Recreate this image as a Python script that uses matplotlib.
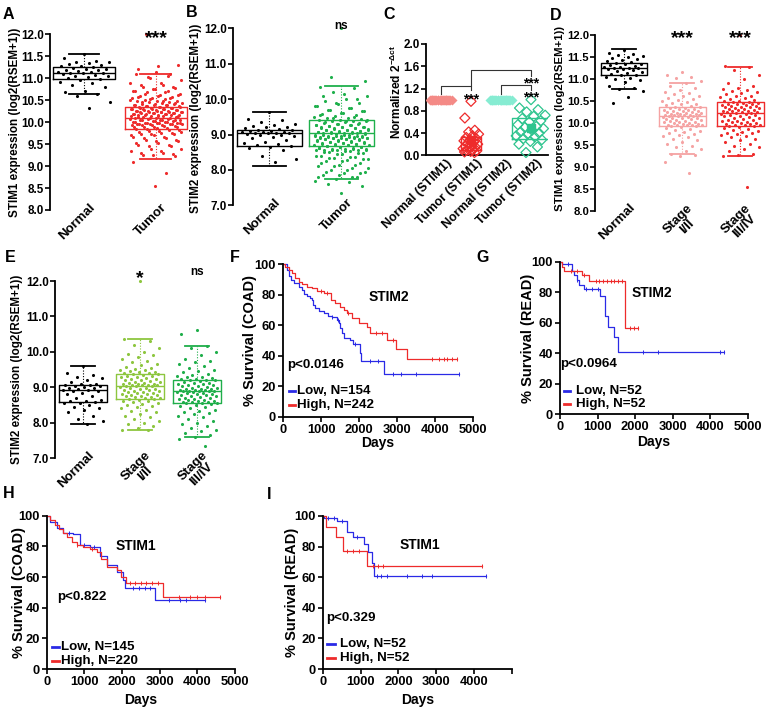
import numpy as np
import matplotlib
matplotlib.use('Agg')
import matplotlib.pyplot as plt
from matplotlib.transforms import ScaledTranslation, blended_transform_factory

plt.rcParams['font.family'] = ['Liberation Sans', 'DejaVu Sans']
plt.rcParams['font.weight'] = 'bold'
plt.rcParams['axes.labelweight'] = 'bold'
plt.rcParams['mathtext.fontset'] = 'custom'
plt.rcParams['mathtext.rm'] = 'Liberation Sans:bold'
plt.rcParams['mathtext.bf'] = 'Liberation Sans:bold'

# ---------------- DATA ----------------
# STIM1 expression (panels A, D)
stim1_normal_A = [11.55, 11.45, 11.4, 11.38, 11.37, 11.35, 11.33, 11.3, 11.28, 11.27, 11.25, 11.24, 11.22,
                  11.2, 11.19, 11.18, 11.17, 11.15, 11.14, 11.13, 11.12, 11.11, 11.1, 11.08, 11.06, 11.05,
                  11.03, 11.0, 10.98, 10.95, 10.92, 10.88, 10.85, 10.8, 10.72, 10.68, 10.65, 10.6, 10.46, 10.33]
stim1_normal_D = [11.65, 11.6, 11.57, 11.55, 11.52, 11.5, 11.48, 11.45, 11.42, 11.4, 11.38, 11.36, 11.35,
                  11.33, 11.31, 11.3, 11.28, 11.27, 11.26, 11.25, 11.24, 11.23, 11.22, 11.2, 11.18, 11.16,
                  11.14, 11.12, 11.1, 11.08, 11.05, 11.02, 11.0, 10.97, 10.92, 10.85, 10.8, 10.76, 10.72,
                  10.58, 10.45]
stim1_stage12 = [11.15, 11.1, 11.05, 11.02, 10.95, 10.9, 10.85, 10.8, 10.75, 10.7, 10.68, 10.65, 10.62, 10.6,
                 10.57, 10.55, 10.52, 10.5, 10.48, 10.46, 10.44, 10.42, 10.4, 10.38, 10.37,
                 10.35, 10.34, 10.33, 10.32, 10.31, 10.3, 10.29, 10.28, 10.27, 10.26, 10.25, 10.24, 10.23,
                 10.22, 10.22, 10.21, 10.2, 10.2, 10.19, 10.18, 10.18, 10.17, 10.17, 10.16, 10.16,
                 10.15, 10.14, 10.13, 10.12, 10.11, 10.1, 10.09, 10.08, 10.07, 10.06, 10.05, 10.04, 10.03,
                 10.02, 10.01, 10.0, 9.99, 9.98, 9.97, 9.96, 9.96, 9.95, 9.95, 9.94, 9.93,
                 9.92, 9.9, 9.88, 9.86, 9.84, 9.82, 9.8, 9.77, 9.75, 9.72, 9.7, 9.67, 9.64, 9.6, 9.56,
                 9.52, 9.48, 9.45, 9.4, 9.35, 9.3, 9.27, 9.25, 9.1, 8.85]
stim1_stage34 = [12.0, 11.3, 11.27, 11.2, 11.1, 11.0, 10.9, 10.85, 10.8, 10.78, 10.75, 10.72, 10.7, 10.68,
                 10.65, 10.62, 10.6, 10.58, 10.56, 10.54, 10.52, 10.5, 10.49, 10.48, 10.48,
                 10.46, 10.45, 10.44, 10.43, 10.42, 10.41, 10.4, 10.39, 10.38, 10.37, 10.36, 10.35, 10.34,
                 10.33, 10.32, 10.31, 10.3, 10.29, 10.28, 10.27, 10.26, 10.25, 10.25, 10.24, 10.23,
                 10.22, 10.21, 10.2, 10.19, 10.18, 10.16, 10.15, 10.13, 10.12, 10.1, 10.09, 10.07, 10.06,
                 10.05, 10.04, 10.02, 10.01, 10.0, 9.99, 9.98, 9.97, 9.96, 9.95, 9.94, 9.93,
                 9.92, 9.9, 9.88, 9.86, 9.84, 9.82, 9.8, 9.78, 9.76, 9.74, 9.72, 9.7, 9.67, 9.64, 9.6,
                 9.56, 9.52, 9.48, 9.45, 9.4, 9.35, 9.3, 9.26, 9.24, 8.55]
stim1_tumor = stim1_stage12 + stim1_stage34

# STIM2 expression (panels B, E)
stim2_normal_B = [9.63, 9.45, 9.4, 9.35, 9.3, 9.28, 9.25, 9.22, 9.2, 9.18, 9.16, 9.14, 9.12, 9.1, 9.09, 9.08,
                  9.07, 9.06, 9.05, 9.05, 9.04, 9.03, 9.02, 9.0, 8.98, 8.95, 8.92, 8.9, 8.85, 8.8, 8.75,
                  8.72, 8.7, 8.68, 8.65, 8.62, 8.55, 8.4, 8.3, 8.22]
stim2_normal_E = [9.6, 9.4, 9.35, 9.3, 9.25, 9.2, 9.15, 9.1, 9.08, 9.06, 9.05, 9.04, 9.02, 9.0, 8.99, 8.97,
                  8.95, 8.93, 8.92, 8.9, 8.88, 8.85, 8.8, 8.75, 8.7, 8.65, 8.62, 8.6, 8.58, 8.56, 8.55,
                  8.5, 8.45, 8.4, 8.35, 8.3, 8.2, 8.1, 8.05, 7.95]
stim2_stage12 = [12.0, 10.35, 10.3, 10.2, 10.1, 10.0, 9.95, 9.9, 9.85, 9.8, 9.75, 9.7, 9.66, 9.62, 9.58,
                 9.55, 9.52, 9.5, 9.48, 9.46, 9.44, 9.42, 9.4, 9.39, 9.38,
                 9.37, 9.35, 9.33, 9.31, 9.3, 9.28, 9.26, 9.24, 9.22, 9.2, 9.19, 9.17, 9.15, 9.14, 9.13,
                 9.12, 9.1, 9.09, 9.08, 9.07, 9.06, 9.05, 9.05, 9.04, 9.03,
                 9.02, 9.0, 8.99, 8.97, 8.96, 8.95, 8.93, 8.92, 8.9, 8.89, 8.87, 8.86, 8.84, 8.83, 8.82,
                 8.8, 8.78, 8.77, 8.75, 8.74, 8.72, 8.71, 8.7, 8.69, 8.68,
                 8.66, 8.64, 8.62, 8.6, 8.57, 8.55, 8.52, 8.5, 8.47, 8.44, 8.4, 8.37, 8.34, 8.3, 8.25,
                 8.2, 8.15, 8.1, 8.05, 8.0, 7.95, 7.9, 7.85, 7.8, 7.8]
stim2_stage34 = [10.62, 10.5, 10.15, 10.1, 10.0, 9.9, 9.8, 9.75, 9.7, 9.65, 9.6, 9.55, 9.5, 9.46, 9.42,
                 9.38, 9.35, 9.32, 9.3, 9.28, 9.26, 9.24, 9.22, 9.21, 9.2,
                 9.19, 9.17, 9.15, 9.13, 9.12, 9.1, 9.08, 9.06, 9.05, 9.03, 9.02, 9.0, 8.99, 8.97, 8.96,
                 8.95, 8.94, 8.93, 8.92, 8.91, 8.9, 8.9, 8.89, 8.89, 8.88,
                 8.87, 8.86, 8.85, 8.84, 8.82, 8.8, 8.79, 8.77, 8.75, 8.74, 8.72, 8.7, 8.69, 8.67, 8.66,
                 8.65, 8.63, 8.62, 8.6, 8.59, 8.58, 8.57, 8.56, 8.56, 8.55,
                 8.53, 8.5, 8.47, 8.44, 8.4, 8.37, 8.34, 8.3, 8.27, 8.24, 8.2, 8.15, 8.1, 8.05, 8.0,
                 7.95, 7.9, 7.85, 7.8, 7.75, 7.7, 7.65, 7.6, 7.55, 7.35]
stim2_tumor = stim2_stage12 + stim2_stage34

# box statistics: (median, q1, q3, whisker low, whisker high)
box_A = [(11.12, 10.98, 11.25, 10.63, 11.55), (10.10, 9.85, 10.35, 9.17, 11.10)]
box_B = [(9.03, 8.68, 9.14, 8.11, 9.64), (9.03, 8.68, 9.40, 7.74, 10.37)]
box_D = [(11.25, 11.10, 11.37, 10.76, 11.68), (10.16, 9.93, 10.36, 9.30, 10.90),
         (10.23, 9.93, 10.47, 9.24, 11.27)]
box_E = [(8.92, 8.58, 9.05, 7.95, 9.60), (9.03, 8.68, 9.38, 7.80, 10.35),
         (8.88, 8.55, 9.20, 7.60, 10.15)]

labels_AB = ['Normal', 'Tumor']
labels_DE = ['Normal', 'Stage\nI/II', 'Stage\nIII/IV']

# Panel C (qPCR, normalized 2^-dct)
c_labels = ['Normal (STIM1)', 'Tumor (STIM1)', 'Normal (STIM2)', 'Tumor (STIM2)']
c_normal_stim1 = [1.0, 1.0, 1.0, 1.0, 1.0, 1.0, 1.0, 1.0, 1.0, 1.0, 1.0, 1.0,
                  1.0, 1.0, 1.0, 1.0, 1.0, 1.0, 1.0, 1.0, 1.0, 1.0, 1.0, 1.0]
c_tumor_stim1 = [0.97, 0.67, 0.45, 0.42, 0.38, 0.35, 0.32, 0.30, 0.28, 0.26, 0.24, 0.22,
                 0.20, 0.18, 0.16, 0.15, 0.13, 0.12, 0.10, 0.09, 0.08, 0.07, 0.06, 0.05]
c_normal_stim2 = [1.0, 1.0, 1.0, 1.0, 1.0, 1.0, 1.0, 1.0, 1.0, 1.0, 1.0, 1.0,
                  1.0, 1.0, 1.0, 1.0, 1.0, 1.0, 1.0, 1.0, 1.0, 1.0, 1.0, 1.0]
c_tumor_stim2 = [1.00, 0.85, 0.82, 0.78, 0.72, 0.70, 0.66, 0.62, 0.60, 0.55, 0.52, 0.50,
                 0.48, 0.45, 0.42, 0.40, 0.38, 0.35, 0.33, 0.30, 0.28, 0.25, 0.20, 0.15, 0.05]
c_box_stim1 = (0.10, 0.33, 0.27)   # q1, q3, mean
c_box_stim2 = (0.30, 0.67, 0.49)

# Survival curves (days, % survival)
F_low_t = [0, 105, 150, 210, 300, 410, 500, 545, 630, 700, 765, 790, 850, 940, 1070, 1175, 1290, 1420,
           1465, 1510, 1550, 1600, 1770, 1840, 2020, 2050, 2670, 4620]
F_low_s = [100, 96.3, 92, 89.7, 87.5, 85.3, 83, 80.3, 79.4, 77.7, 76.6, 73.3, 71.6, 69.4, 67.8, 66.3, 65.2,
           63.5, 61.3, 58, 54.7, 51.9, 50.3, 47.5, 41.6, 36.5, 28, 28]
F_high_t = [0, 60, 150, 235, 325, 410, 500, 630, 765, 895, 1070, 1270, 1380, 1510, 1600, 1685, 1815, 1990,
            2210, 2300, 2740, 2980, 3260, 4580]
F_high_s = [100, 98.5, 96.3, 94, 90.8, 88.6, 86.9, 85.3, 84.2, 82.5, 81, 76.6, 74.4, 72.2, 70, 67.8, 64.6,
            61.7, 59, 55.1, 50.3, 44.2, 37.6, 37.6]
G_low_t = [0, 50, 310, 370, 450, 515, 640, 1070, 1200, 1290, 1450, 1555, 4360]
G_low_s = [100, 98.3, 94, 91, 88, 85, 82, 77.7, 64.4, 57.4, 50.4, 41, 41]
G_high_t = [0, 45, 110, 580, 780, 1730, 2090]
G_high_s = [100, 96.7, 94, 91.3, 87.3, 56.3, 56.3]
H_low_t = [0, 100, 265, 440, 710, 885, 1150, 1410, 1590, 1855, 2030, 2075, 2870, 4200]
H_low_s = [100, 96, 91.7, 88.5, 88, 80.9, 79.3, 73.7, 67.8, 63.5, 58, 52.6, 45, 45]
H_high_t = [0, 100, 220, 330, 440, 550, 660, 800, 970, 1150, 1325, 1450, 1590, 1855, 1960, 2100, 3090, 4590]
H_high_s = [100, 97, 94, 91, 88.5, 86, 83, 81, 79.8, 78, 76.5, 72, 66.7, 64.6, 59.8, 55.9, 46.7, 46.7]
I_low_t = [0, 30, 388, 650, 810, 1090, 1207, 1295, 1357, 4310]
I_low_s = [100, 98.5, 96.5, 89.8, 86, 81.5, 76.3, 69, 61, 61]
I_high_t = [0, 88, 352, 546, 1180, 4220]
I_high_s = [100, 92.6, 86, 77, 67.4, 67.4]

F_low_c = [1300, 1450, 1900, 2300, 2500, 2900, 3100, 3510, 4620]
F_high_c = [1000, 1150, 1700, 2450, 2600, 2900, 3920, 4100, 4230, 4320, 4450, 4580]
G_low_c = [200, 450, 700, 850, 1000, 2220, 2620, 4270, 4360]
G_high_c = [300, 450, 650, 950, 1050, 1150, 1250, 1350, 1450, 1550, 1650, 1870, 1970, 2090]
H_low_c = [600, 1000, 1250, 2300, 2450, 2600, 2750, 3250, 3550, 3700, 4200]
H_high_c = [800, 1200, 2200, 2350, 2500, 2650, 2800, 2950, 3500, 3800, 4000, 4200, 4590]
I_low_c = [150, 300, 500, 900, 1430, 1550, 1700, 2220, 2620, 2880, 4310]
I_high_c = [650, 800, 950, 1340, 1450, 1600, 4220]

# ---------------- FIGURE ----------------
W, H = 768, 711
fig = plt.figure(figsize=(W / 100, H / 100), dpi=100)

BLUE = '#2a2ae6'
RED = '#ee2b2b'


def px_axes(left, top, right, bottom):
    return fig.add_axes([left / W, 1 - bottom / H, (right - left) / W, (bottom - top) / H])


def jitter(n, spread):
    k = np.arange(n)
    return (((k * 0.6180339887 + 0.5) % 1.0) - 0.5) * spread


def style_axis(ax, bottom=False, lw=1.3):
    for s in ['top', 'right']:
        ax.spines[s].set_visible(False)
    ax.spines['bottom'].set_visible(bottom)
    ax.spines['left'].set_linewidth(lw)
    ax.spines['bottom'].set_linewidth(lw)
    ax.tick_params(axis='y', direction='out', length=3.5, width=1.2, pad=1.0)


def cat_labels(ax, labels, fs=9.5, dx=5, dy=9):
    tr = blended_transform_factory(ax.transData, ax.transAxes) + ScaledTranslation(dx / 100, dy / 100, fig.dpi_scale_trans)
    for i, lab in enumerate(labels):
        ax.text(i, 0, lab, transform=tr, rotation=45, ha='right', va='top', rotation_mode='anchor',
                multialignment='center', fontsize=fs, fontweight='bold', linespacing=0.95)


def box_panel(ax, datasets, stats, colors, width, xlim, ylim, yticks, labels, tick_fs=8.4):
    for i, (vals, st, col) in enumerate(zip(datasets, stats, colors)):
        med, q1, q3, lo, hi = st
        ax.bxp([dict(med=med, q1=q1, q3=q3, whislo=lo, whishi=hi, fliers=[])], positions=[i],
               widths=width, capwidths=width * 0.5, showfliers=False, manage_ticks=False,
               boxprops=dict(color=col, lw=1.0), medianprops=dict(color=col, lw=1.0),
               whiskerprops=dict(color=col, lw=0.8, ls=(0, (1, 1.5))), capprops=dict(color=col, lw=1.3))
        ax.scatter(i + jitter(len(vals), width * 0.85), vals, s=5, color=col, lw=0, zorder=3, clip_on=False)
    ax.set_xlim(*xlim)
    ax.set_ylim(*ylim)
    ax.set_yticks(yticks)
    ax.set_yticklabels(['%.1f' % v for v in yticks], fontsize=tick_fs, fontweight='bold')
    ax.set_xticks([])
    style_axis(ax)
    cat_labels(ax, labels)


def fig_text(x, y, s, **kw):
    fig.text(x / W, 1 - y / H, s, **kw)


# Panel A
axA = px_axes(50, 34.3, 195, 210)
box_panel(axA, [stim1_normal_A, stim1_tumor], box_A, ['black', RED], 0.86, (-0.472, 1.542), (8, 12),
          np.arange(8, 12.01, 0.5), labels_AB)
axA.text(1, 11.80, '***', ha='center', va='baseline', fontsize=14, fontweight='bold', clip_on=False)
fig_text(15.5, 122, 'STIM1 expression (log2(RSEM+1))', rotation=90, ha='center', va='center', fontsize=8.4, fontweight='bold')

# Panel B
axB = px_axes(233, 28.3, 380, 205.3)
box_panel(axB, [stim2_normal_B, stim2_tumor], box_B, ['black', '#1fb04c'], 0.9, (-0.507, 1.535), (7, 12),
          np.arange(7, 12.01, 1.0), labels_AB)
axB.text(1, 11.98, 'ns', ha='center', va='baseline', fontsize=8.5, fontweight='bold', clip_on=False)
fig_text(196, 118, 'STIM2 expression (log2(RSEM+1))', rotation=90, ha='center', va='center', fontsize=8.4, fontweight='bold')

# Panel C
axC = px_axes(426, 44, 548, 155.3)
c_cols = ['#f48a86', RED, '#86ecd2', '#2ec48e']
c_data = [c_normal_stim1, c_tumor_stim1, c_normal_stim2, c_tumor_stim2]
for i in (0, 2):
    axC.scatter(i + jitter(len(c_data[i]), 0.75), c_data[i], marker='D', s=26, color=c_cols[i], lw=0, zorder=3)
for i, bx, bw in ((1, c_box_stim1, 0.67), (3, c_box_stim2, 1.25)):
    q1, q3, mn = bx
    axC.bxp([dict(med=mn, q1=q1, q3=q3, whislo=q1, whishi=q3, fliers=[])], positions=[i], widths=bw,
            showfliers=False, showcaps=False, manage_ticks=False,
            boxprops=dict(color=c_cols[i], lw=1.0), medianprops=dict(lw=0), whiskerprops=dict(lw=0))
    axC.scatter(i + jitter(len(c_data[i]), bw * 0.8), c_data[i], marker='D', s=26, facecolors='none',
                edgecolors=c_cols[i], lw=0.9, zorder=3, clip_on=False)
    axC.scatter([i], [mn], marker='s', s=30, color=c_cols[i], zorder=4)
axC.set_xlim(-0.5, 3.567)
axC.set_ylim(0, 2.0)
axC.set_yticks(np.arange(0, 2.01, 0.4))
axC.set_yticklabels(['%.1f' % v for v in np.arange(0, 2.01, 0.4)], fontsize=8.4, fontweight='bold')
axC.set_xticks([])
style_axis(axC, bottom=True)
cat_labels(axC, c_labels, fs=9.0, dx=5, dy=-2)
bk = dict(color='#333333', lw=0.8, clip_on=False)
axC.plot([0, 0, 1, 1], [1.11, 1.245, 1.245, 1.18], **bk)
axC.plot([2, 2, 3, 3], [1.11, 1.26, 1.26, 1.18], **bk)
axC.plot([1, 1, 3, 3], [1.245, 1.53, 1.53, 1.42], **bk)
axC.text(1, 0.94, '***', ha='center', va='baseline', fontsize=10, fontweight='bold')
axC.text(3, 0.97, '***', ha='center', va='baseline', fontsize=10, fontweight='bold')
axC.text(3, 1.21, '***', ha='center', va='baseline', fontsize=10, fontweight='bold')
fig_text(396, 92, r'Normalized 2$^{\mathbf{-\Delta ct}}$', rotation=90, ha='center', va='center', fontsize=8.6, fontweight='bold')

# Panel D
axD = px_axes(595, 35, 766, 210.7)
box_panel(axD, [stim1_normal_D, stim1_stage12, stim1_stage34], box_D, ['black', '#f5a3a3', RED], 0.81,
          (-0.5, 2.448), (8, 12), np.arange(8, 12.01, 0.5), labels_DE, tick_fs=8.1)
axD.tick_params(axis='y', pad=0.6)
for i in (1, 2):
    axD.text(i, 11.82, '***', ha='center', va='baseline', fontsize=14, fontweight='bold', clip_on=False)
fig_text(560, 118, 'STIM1 expression (log2(RSEM+1))', rotation=90, ha='center', va='center', fontsize=8.2, fontweight='bold')

# Panel E
axE = px_axes(55, 281, 230, 458)
box_panel(axE, [stim2_normal_E, stim2_stage12, stim2_stage34], box_E, ['black', '#8dc63f', '#1fae4a'], 0.84,
          (-0.491, 2.579), (7, 12), np.arange(7, 12.01, 1.0), labels_DE)
axE.text(1, 11.93, '*', ha='center', va='baseline', fontsize=14, fontweight='bold', clip_on=False)
axE.text(2, 12.18, 'ns', ha='center', va='baseline', fontsize=8.5, fontweight='bold', clip_on=False)
fig_text(17, 369, 'STIM2 expression (log2(RSEM+1))', rotation=90, ha='center', va='center', fontsize=8.4, fontweight='bold')


# Survival panels
def surv_panel(box, curves, gene, gene_xy, ptxt, pxy, leg, leg_xy, ylabel, ylab_xy, xlab_y, last_label=True):
    ax = px_axes(*box)
    for (t, s, c, col) in curves:
        ax.step(t, s, where='post', color=col, lw=0.9, clip_on=False)
        idx = np.searchsorted(t, c, side='right') - 1
        ax.plot(c, np.array(s)[idx], ls='none', marker='|', ms=3.5, mew=0.7, color=col, clip_on=False)
    ax.set_xlim(0, 5000)
    ax.set_ylim(0, 100)
    ax.set_xticks(np.arange(0, 5001, 1000))
    ax.set_xticklabels([str(v) if (v < 5000 or last_label) else '' for v in range(0, 5001, 1000)],
                       fontsize=9.3, fontweight='bold')
    ax.set_yticks(np.arange(0, 101, 20))
    ax.set_yticklabels([str(v) for v in range(0, 101, 20)], fontsize=9.3, fontweight='bold')
    for s in ['top', 'right']:
        ax.spines[s].set_visible(False)
    for s in ['left', 'bottom']:
        ax.spines[s].set_linewidth(1.3)
    ax.tick_params(direction='out', length=3.5, width=1.2, pad=1.5)
    ax.text(gene_xy[0], gene_xy[1], gene, ha='left', va='center', fontsize=10, fontweight='bold')
    ax.text(pxy[0], pxy[1], ptxt, ha='left', va='center', fontsize=9.6, fontweight='bold')
    (x0, x1, xt), (y_low, y_high) = leg_xy
    for (lab, col, yy) in ((leg[0], BLUE, y_low), (leg[1], RED, y_high)):
        ax.plot([x0, x1], [yy, yy], color=col, lw=2.0, clip_on=False)
        ax.text(xt, yy, lab, ha='left', va='center', fontsize=9.6, fontweight='bold')
    fig_text(ylab_xy[0], ylab_xy[1], ylabel, rotation=90, ha='center', va='center', fontsize=10.5, fontweight='bold')
    fig_text((box[0] + box[2]) / 2, xlab_y, 'Days', ha='center', va='center', fontsize=10, fontweight='bold')
    return ax


surv_panel((283, 264.3, 473, 416.7),
           [(F_low_t, F_low_s, F_low_c, BLUE), (F_high_t, F_high_s, F_high_c, RED)],
           'STIM2', (2260, 78.5), 'p<0.0146', (105, 34),
           ('Low, N=154', 'High, N=242'), ((160, 320, 370), (17, 7.6)),
           '% Survival (COAD)', (250, 340), 443)
surv_panel((560, 261.7, 747.5, 414.3),
           [(G_low_t, G_low_s, G_low_c, BLUE), (G_high_t, G_high_s, G_high_c, RED)],
           'STIM2', (1920, 79.7), 'p<0.0964', (0, 33),
           ('Low, N=52', 'High, N=52'), ((107, 267, 427), (15.5, 6.7)),
           '% Survival (READ)', (528, 338), 442)
surv_panel((46.7, 515.7, 235, 669),
           [(H_low_t, H_low_s, H_low_c, BLUE), (H_high_t, H_high_s, H_high_c, RED)],
           'STIM1', (1838, 80), 'p<0.822', (282, 47),
           ('Low, N=145', 'High, N=220'), ((133, 334, 380), (14.5, 5.2)),
           '% Survival (COAD)', (19.5, 592), 700)
surv_panel((322.7, 516, 512, 669),
           [(I_low_t, I_low_s, I_low_c, BLUE), (I_high_t, I_high_s, I_high_c, RED)],
           'STIM1', (2018, 81), 'p<0.329', (87, 33.5),
           ('Low, N=52', 'High, N=52'), ((106, 325, 460), (16.3, 7.2)),
           '% Survival (READ)', (292, 592), 700, last_label=False)

# panel letters
for lab, x, y in (('A', 3, 7), ('B', 186, 5), ('C', 383, 7), ('D', 550, 8), ('E', 5, 250),
                  ('F', 230, 250), ('G', 476, 250), ('H', 3, 486), ('I', 267, 487)):
    fig_text(x, y, lab, ha='left', va='top', fontsize=11.5, fontweight='bold')

fig.savefig('out.png', dpi=100)
